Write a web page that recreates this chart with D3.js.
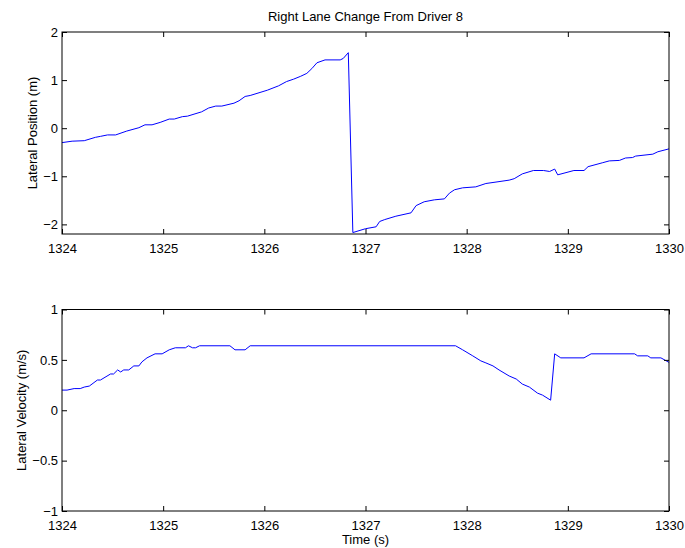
<!DOCTYPE html>
<html>
<head>
<meta charset="utf-8">
<script src="https://cdn.jsdelivr.net/npm/d3@7/dist/d3.min.js"></script>
<style>
  html, body { margin: 0; padding: 0; background: #fff; }
  svg { display: block; }
  text { font-family: "Liberation Sans", Arial, Helvetica, sans-serif; fill: #000; }
</style>
</head>
<body>
<svg id="fig" width="685" height="548"></svg>
<script>
// Lateral position samples (time in s, position in m)
const posTime = [1324, 1324.10, 1324.22, 1324.33, 1324.38, 1324.45, 1324.53, 1324.64, 1324.76, 1324.82,
  1324.89, 1324.97, 1325.06, 1325.11, 1325.19, 1325.24, 1325.38, 1325.45, 1325.52, 1325.58,
  1325.70, 1325.75, 1325.81, 1325.86, 1326.03, 1326.14, 1326.22, 1326.29, 1326.36, 1326.42,
  1326.47, 1326.52, 1326.60, 1326.75, 1326.78, 1326.83, 1326.875, 1327.0, 1327.105, 1327.14,
  1327.19, 1327.30, 1327.45, 1327.50, 1327.58, 1327.68, 1327.78, 1327.83, 1327.88, 1327.96,
  1328.09, 1328.19, 1328.29, 1328.42, 1328.47, 1328.55, 1328.66, 1328.76, 1328.82, 1328.87,
  1328.90, 1329.06, 1329.16, 1329.20, 1329.34, 1329.41, 1329.51, 1329.57, 1329.64, 1329.67,
  1329.84, 1329.89, 1330.0];
const posValue = [-0.30, -0.27, -0.26, -0.19, -0.17, -0.14, -0.14, -0.06, 0.01, 0.07,
  0.07, 0.12, 0.19, 0.19, 0.24, 0.25, 0.34, 0.42, 0.46, 0.46,
  0.52, 0.57, 0.66, 0.68, 0.79, 0.88, 0.97, 1.02, 1.08, 1.14,
  1.24, 1.36, 1.42, 1.42, 1.45, 1.57, -2.17, -2.09, -2.05, -1.94,
  -1.90, -1.83, -1.76, -1.61, -1.53, -1.49, -1.47, -1.35, -1.28, -1.24,
  -1.22, -1.15, -1.12, -1.08, -1.05, -0.95, -0.88, -0.88, -0.90, -0.85,
  -0.97, -0.88, -0.88, -0.80, -0.72, -0.68, -0.67, -0.62, -0.61, -0.58,
  -0.54, -0.49, -0.43];

// Lateral velocity samples (time in s, velocity in m/s)
const velTime = [1324, 1324.05, 1324.12, 1324.18, 1324.22, 1324.27, 1324.35, 1324.38, 1324.48, 1324.51,
  1324.55, 1324.58, 1324.61, 1324.66, 1324.71, 1324.76, 1324.79, 1324.84, 1324.92, 1324.99,
  1325.06, 1325.12, 1325.22, 1325.25, 1325.29, 1325.32, 1325.36, 1325.66, 1325.71, 1325.81,
  1325.86, 1327.89, 1327.96, 1328.06, 1328.14, 1328.19, 1328.26, 1328.32, 1328.42, 1328.49,
  1328.55, 1328.62, 1328.70, 1328.75, 1328.83, 1328.87, 1328.93, 1329.16, 1329.23, 1329.66,
  1329.69, 1329.79, 1329.82, 1329.92, 1330.0];
const velValue = [0.20, 0.20, 0.215, 0.215, 0.23, 0.24, 0.30, 0.30, 0.36, 0.36,
  0.40, 0.38, 0.40, 0.40, 0.44, 0.44, 0.48, 0.52, 0.56, 0.56,
  0.60, 0.62, 0.62, 0.64, 0.62, 0.62, 0.64, 0.64, 0.60, 0.60,
  0.64, 0.64, 0.60, 0.54, 0.49, 0.47, 0.44, 0.40, 0.34, 0.31,
  0.26, 0.23, 0.17, 0.15, 0.10, 0.56, 0.52, 0.52, 0.56, 0.56,
  0.54, 0.54, 0.52, 0.52, 0.475];

// Axis ticks and labels
const timeTicks = [1324, 1325, 1326, 1327, 1328, 1329, 1330];
const posTicks = [-2, -1, 0, 1, 2];
const velTicks = [-1, -0.5, 0, 0.5, 1];
const titleText = "Right Lane Change From Driver 8";
const posLabel = "Lateral Position (m)";
const velLabel = "Lateral Velocity (m/s)";
const timeLabel = "Time (s)";

const svg = d3.select("#fig");
const left = 62, right = 669;
const tickLen = 5;
const fontSize = "13px";
const fmt = v => String(v).replace("-", "\u2212");

function panel(top, bottom, xs, ys, yDomain, yTicks, ylabel, ylabelX) {
  const x = d3.scaleLinear().domain([1324, 1330]).range([left, right]);
  const y = d3.scaleLinear().domain(yDomain).range([bottom, top]);
  const g = svg.append("g");

  // data line
  const line = d3.line().x((d, i) => x(xs[i])).y(d => y(d));
  g.append("path").datum(ys).attr("d", line)
    .attr("fill", "none").attr("stroke", "#0000ff").attr("stroke-width", 1)
    .attr("stroke-linejoin", "miter");

  // inward ticks on all four sides
  const axB = d3.axisBottom(x).tickValues(timeTicks).tickSizeInner(-tickLen).tickSizeOuter(0).tickFormat(d3.format("d"));
  const axT = d3.axisTop(x).tickValues(timeTicks).tickSizeInner(-tickLen).tickSizeOuter(0).tickFormat("");
  const axL = d3.axisLeft(y).tickValues(yTicks).tickSizeInner(-tickLen).tickSizeOuter(0).tickFormat(fmt);
  const axR = d3.axisRight(y).tickValues(yTicks).tickSizeInner(-tickLen).tickSizeOuter(0).tickFormat("");

  const gb = g.append("g").attr("transform", `translate(0,${bottom})`).call(axB);
  gb.selectAll("text").attr("dy", null).attr("y", 19).style("font-size", fontSize);
  g.append("g").attr("transform", `translate(0,${top})`).call(axT);
  const gl = g.append("g").attr("transform", `translate(${left},0)`).call(axL);
  gl.selectAll("text").attr("x", -4).style("font-size", fontSize);
  g.append("g").attr("transform", `translate(${right},0)`).call(axR);
  g.selectAll(".domain").remove();
  g.selectAll(".tick line").attr("stroke", "#000").attr("stroke-width", 1);

  // frame
  g.append("rect").attr("x", left).attr("y", top)
    .attr("width", right - left).attr("height", bottom - top)
    .attr("fill", "none").attr("stroke", "#000").attr("stroke-width", 1);

  g.append("text").attr("transform", `translate(${ylabelX},${(top + bottom) / 2}) rotate(-90)`)
    .attr("text-anchor", "middle").style("font-size", fontSize).text(ylabel);
  return x;
}

panel(32, 234, posTime, posValue, [-2.2, 2], posTicks, posLabel, 36.5);
panel(309.5, 511, velTime, velValue, [-1, 1], velTicks, velLabel, 25.5);

svg.append("text").attr("x", (left + right) / 2).attr("y", 20.7)
  .attr("text-anchor", "middle").style("font-size", fontSize).text(titleText);
svg.append("text").attr("x", (left + right) / 2).attr("y", 544)
  .attr("text-anchor", "middle").style("font-size", fontSize).text(timeLabel);
</script>
</body>
</html>
